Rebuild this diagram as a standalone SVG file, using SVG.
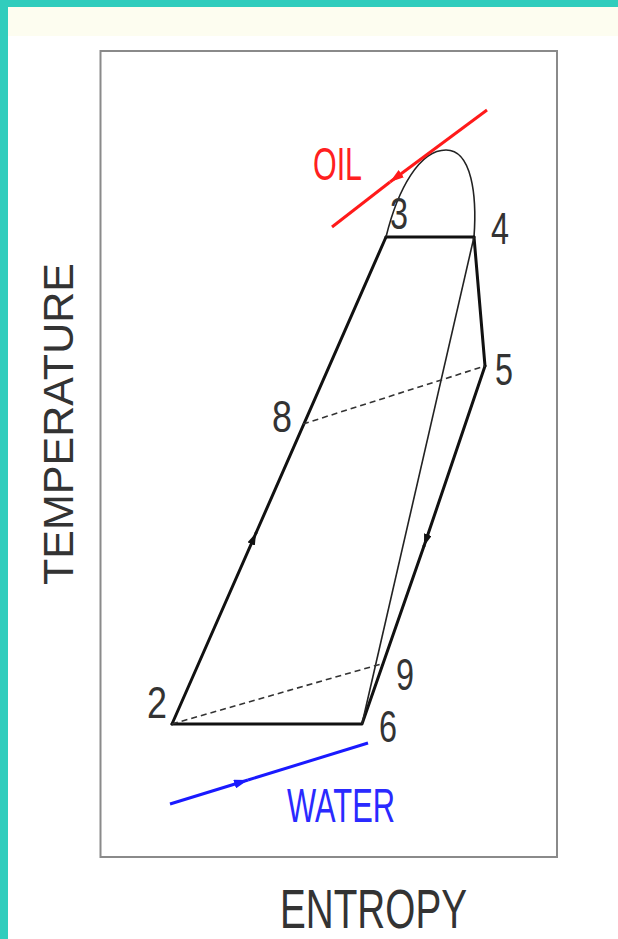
<svg xmlns="http://www.w3.org/2000/svg" width="618" height="939" viewBox="0 0 618 939">
<defs>
<style>
.lbl{font-family:"Liberation Sans",Arial,sans-serif;fill:#333;font-size:44px;}
.thick{stroke:#111;stroke-width:3;fill:none;stroke-linecap:round;stroke-linejoin:round;}
.thin{stroke:#222;stroke-width:1.6;fill:none;}
.dash{stroke:#333;stroke-width:1.6;fill:none;stroke-dasharray:6 4;}
</style>
<marker id="ak" viewBox="0 0 12 8" refX="12" refY="4" markerWidth="12" markerHeight="8" markerUnits="userSpaceOnUse" orient="auto"><path d="M0,0 L12,4 L0,8 z" fill="#111"/></marker>
<marker id="ar" viewBox="0 0 14 9" refX="14" refY="4.5" markerWidth="14" markerHeight="9" markerUnits="userSpaceOnUse" orient="auto"><path d="M0,0 L14,4.5 L0,9 z" fill="#ff1a1a"/></marker>
<marker id="ab" viewBox="0 0 14 9" refX="14" refY="4.5" markerWidth="14" markerHeight="9" markerUnits="userSpaceOnUse" orient="auto"><path d="M0,0 L14,4.5 L0,9 z" fill="#1a1aff"/></marker>
</defs>
<rect x="0" y="0" width="618" height="939" fill="#ffffff"/>
<rect x="0" y="7" width="618" height="29" fill="#fdfdf0"/>
<rect x="0" y="0" width="618" height="7" fill="#30cdbd"/>
<rect x="0" y="0" width="8" height="939" fill="#30cdbd"/>
<rect id="frame" x="100.5" y="51" width="456.5" height="806" fill="none" stroke="#8a8a8a" stroke-width="2"/>
<g id="connectors">
<path class="thick" d="M172,724 L256,533" marker-end="url(#ak)"/>
<path class="thick" d="M256,533 L386,237"/>
<path class="thick" d="M386,237 L474,237"/>
<path class="thin" d="M386,237 C398,188 420,150 446,150 C472,150 477,196 474,237"/>
<path class="thick" d="M474,237 L485,366"/>
<path class="thick" d="M485,366 L424,546" marker-end="url(#ak)"/>
<path class="thick" d="M424,546 L362,724 L172,724"/>
<path class="thin" d="M474,237 L362,724"/>
<path class="dash" d="M303,424 L485,366"/>
<path class="dash" d="M172,724 L381,664"/>
<path d="M487,110 L390,182" stroke="#ff1a1a" stroke-width="3" fill="none" marker-end="url(#ar)"/>
<path d="M390,182 L332,227" stroke="#ff1a1a" stroke-width="3" fill="none"/>
<path d="M170,804 L248,780" stroke="#1a1aff" stroke-width="3" fill="none" marker-end="url(#ab)"/>
<path d="M248,780 L368,743" stroke="#1a1aff" stroke-width="3" fill="none"/>
</g>
<g id="p2"><text class="lbl" x="147" y="718" textLength="20" lengthAdjust="spacingAndGlyphs">2</text></g>
<g id="p3"><text class="lbl" x="390" y="229" textLength="18" lengthAdjust="spacingAndGlyphs">3</text></g>
<g id="p4"><text class="lbl" x="491" y="244" textLength="18" lengthAdjust="spacingAndGlyphs">4</text></g>
<g id="p5"><text class="lbl" x="495" y="385" textLength="18" lengthAdjust="spacingAndGlyphs">5</text></g>
<g id="p8"><text class="lbl" x="272" y="432" textLength="20" lengthAdjust="spacingAndGlyphs">8</text></g>
<g id="p9"><text class="lbl" x="396" y="690" textLength="18" lengthAdjust="spacingAndGlyphs">9</text></g>
<g id="p6"><text class="lbl" x="379" y="742" textLength="18" lengthAdjust="spacingAndGlyphs">6</text></g>
<g id="oil"><text class="lbl" x="313" y="180" textLength="49" lengthAdjust="spacingAndGlyphs" style="fill:#ff2020;font-size:46px">OIL</text></g>
<g id="water"><text class="lbl" x="287" y="822" textLength="108" lengthAdjust="spacingAndGlyphs" style="fill:#2a2aff;font-size:48px">WATER</text></g>
<g id="ylabel"><text class="lbl" transform="translate(73,585) rotate(-90)" x="0" y="0" textLength="322" lengthAdjust="spacingAndGlyphs" style="font-size:42px">TEMPERATURE</text></g>
<g id="xlabel"><text class="lbl" x="280" y="928" textLength="187" lengthAdjust="spacingAndGlyphs" style="font-size:56px">ENTROPY</text></g>
</svg>
